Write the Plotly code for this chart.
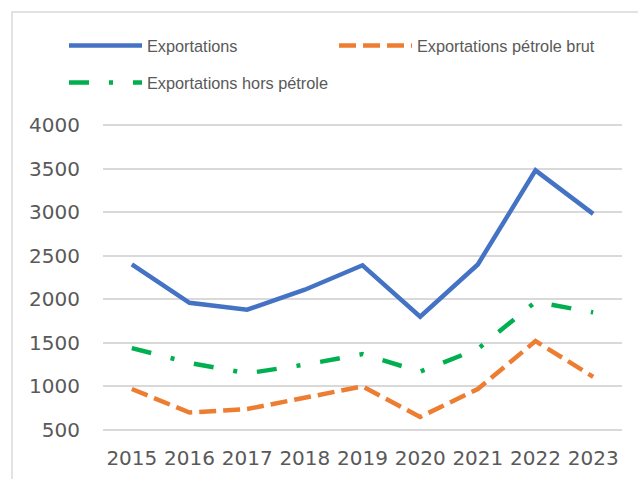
import plotly.graph_objects as go

years = ["2015", "2016", "2017", "2018", "2019", "2020", "2021", "2022", "2023"]
exportations = [2400, 1960, 1880, 2110, 2390, 1800, 2400, 3480, 2980]
petrole_brut = [970, 700, 740, 870, 1000, 650, 970, 1520, 1110]
hors_petrole = [1440, 1270, 1150, 1250, 1370, 1170, 1430, 1970, 1850]
y_ticks = [500, 1000, 1500, 2000, 2500, 3000, 3500, 4000]

W, H = 638, 479
L, R, T, B = 103, 16, 124, 48
pw, ph = W - L - R, H - T - B

gray = "#595959"
legend_font = dict(family="Liberation Sans", size=16.3, color=gray)

fig = go.Figure()
fig.add_trace(go.Scatter(x=years, y=exportations, mode="lines", name="Exportations",
                         line=dict(color="#4472C4", width=4.5), legend="legend"))
fig.add_trace(go.Scatter(x=years, y=petrole_brut, mode="lines", name="Exportations pétrole brut",
                         line=dict(color="#ED7D31", width=4.5, dash="17px,7px"), legend="legend2"))
fig.add_trace(go.Scatter(x=years, y=hors_petrole, mode="lines", name="Exportations hors pétrole",
                         line=dict(color="#00B050", width=4.5, dash="20px,20px,4px,20px"), legend="legend3"))

def leg(xpx, ypx):
    return dict(x=xpx / W, y=1 - ypx / H, xref="container", yref="container",
                xanchor="left", yanchor="middle", orientation="h",
                font=legend_font, itemwidth=73, bgcolor="rgba(0,0,0,0)",
                borderwidth=0, itemclick=False)

fig.update_layout(
    width=W, height=H,
    margin=dict(l=L, r=R, t=T, b=B, autoexpand=False),
    paper_bgcolor="white", plot_bgcolor="white",
    showlegend=True,
    legend=leg(64, 46),
    legend2=leg(334, 46),
    legend3=leg(64, 83),
    xaxis=dict(type="category", range=[-0.5, 8.5], showgrid=False, zeroline=False,
               showline=False, ticks="outside", ticklen=9, tickcolor="rgba(0,0,0,0)",
               automargin=False,
               tickfont=dict(family="DejaVu Sans", size=20, color=gray), fixedrange=True),
    yaxis=dict(range=[488, 4012], tickvals=y_ticks, showgrid=True, gridcolor="#d9d9d9",
               gridwidth=1.5, zeroline=False, showline=False, ticks="outside", ticklen=18,
               tickcolor="rgba(0,0,0,0)", automargin=False,
               tickfont=dict(family="DejaVu Sans", size=20, color=gray), fixedrange=True),
    shapes=[dict(type="rect", xref="paper", yref="paper",
                 x0=(12 - L) / pw, x1=2, y0=-2, y1=(H - B - 12) / ph,
                 line=dict(color="#d9d9d9", width=1.5), layer="below")],
)

fig.write_html("out.html", config={"displayModeBar": False},
               post_script="document.body.style.margin='0';document.body.style.overflow='hidden';")
